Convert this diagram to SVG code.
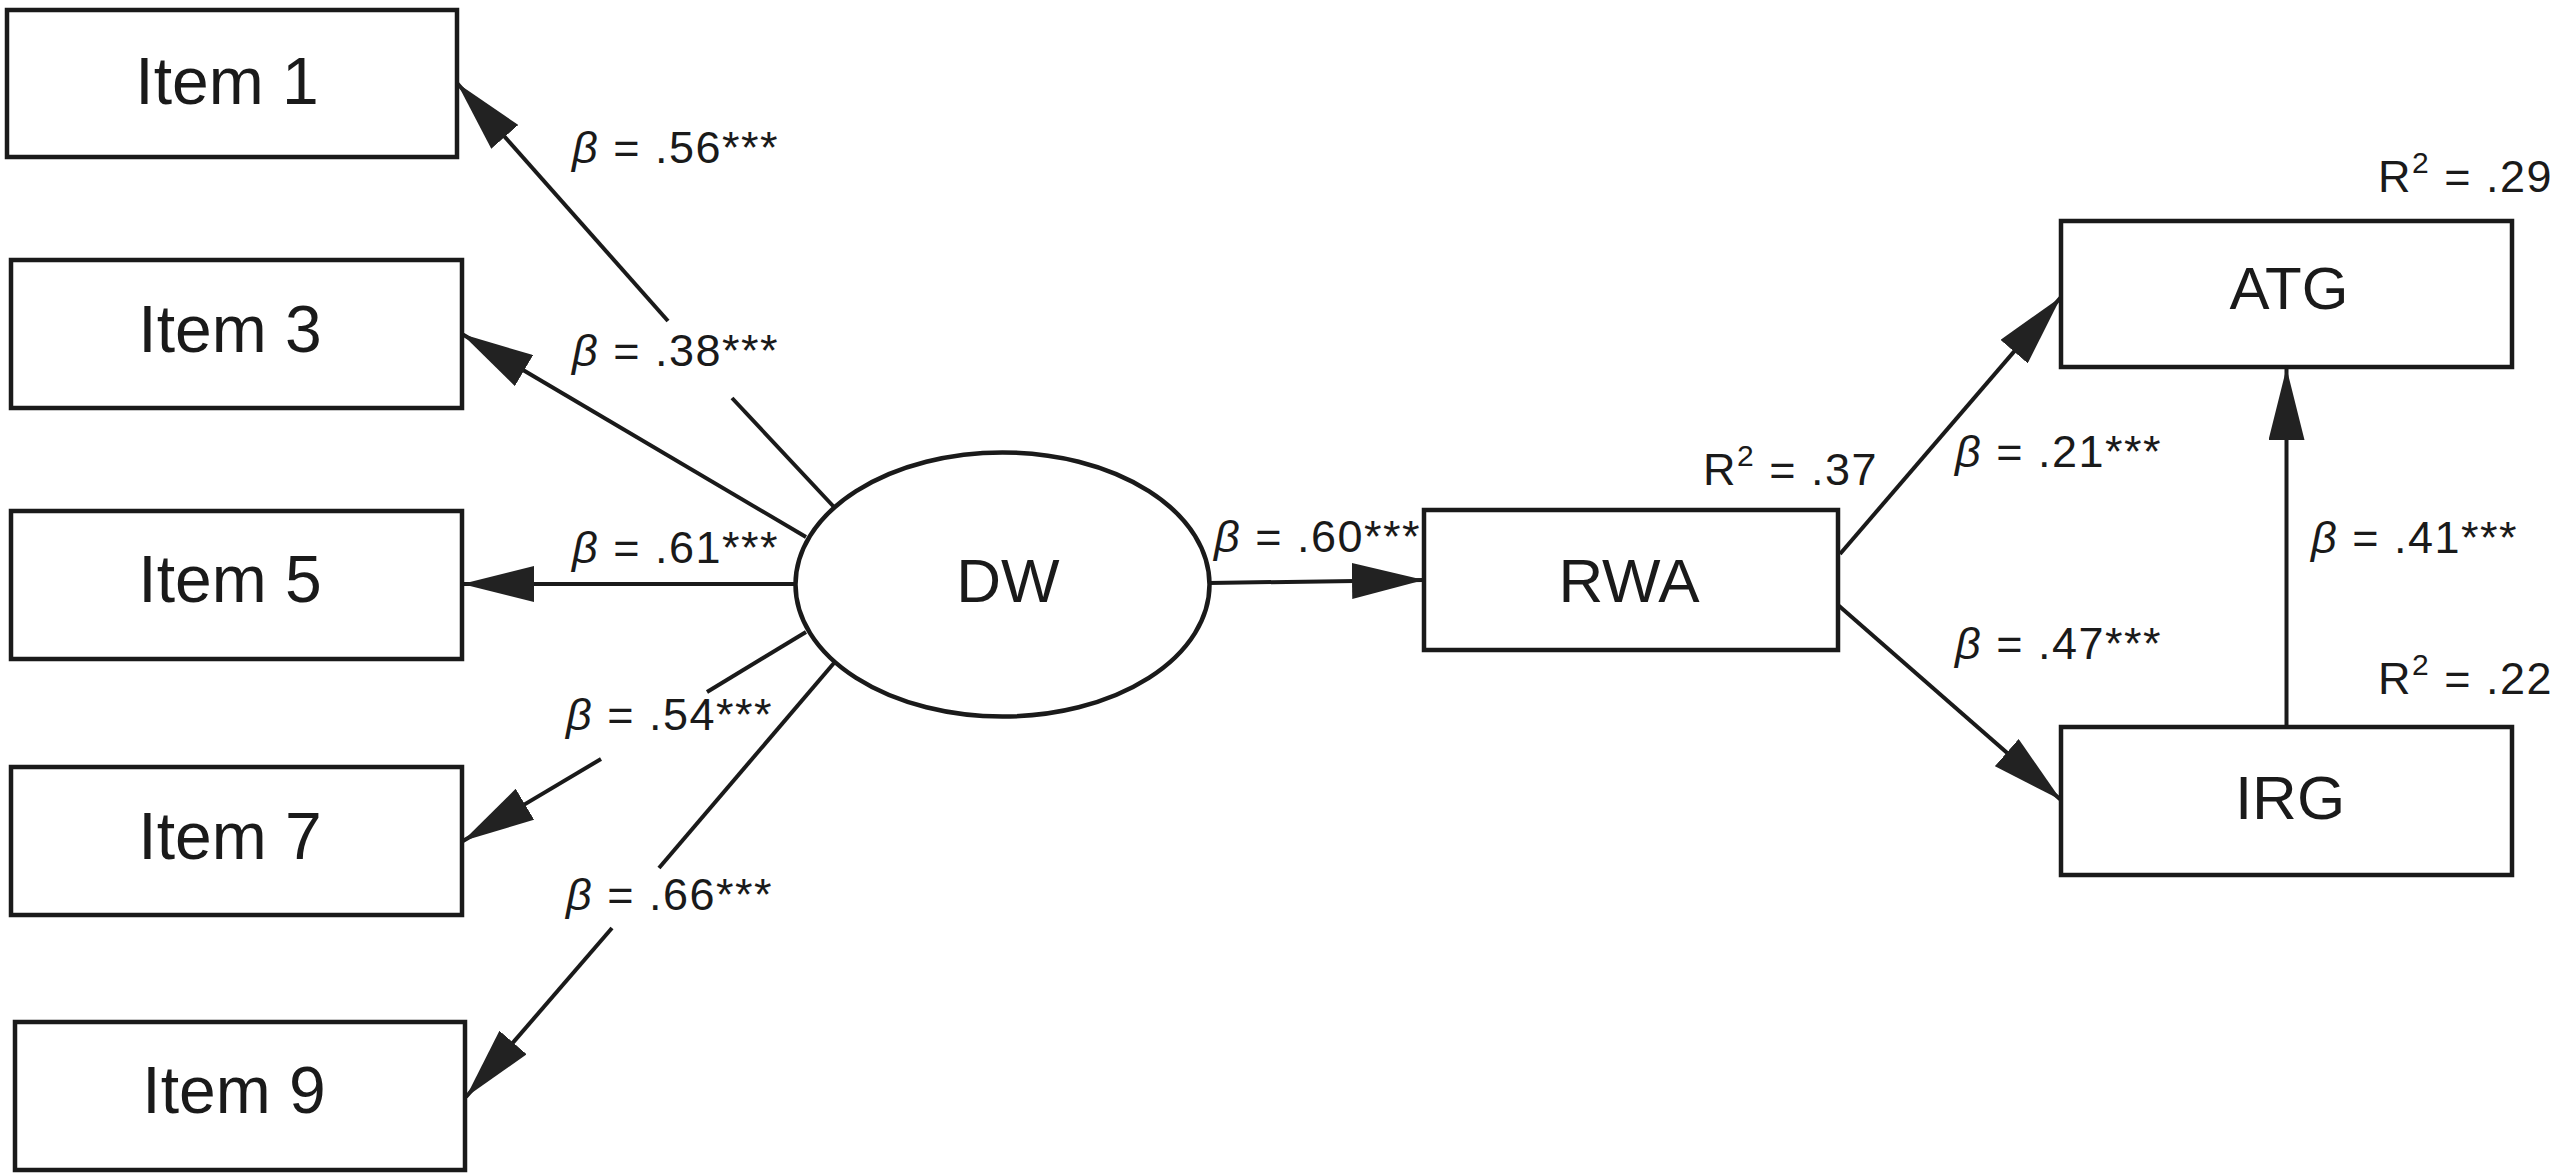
<svg xmlns="http://www.w3.org/2000/svg" width="2552" height="1173" viewBox="0 0 2552 1173">
<style>
.box{fill:#fff;stroke:#1a1a1a;stroke-width:4.5}
.ell{fill:#fff;stroke:#1a1a1a;stroke-width:4.5}
.node{font-family:'Liberation Sans',Arial,sans-serif;font-size:66px;fill:#1a1a1a;text-anchor:middle}
.lbl{font-family:'Liberation Sans',Arial,sans-serif;font-size:45px;letter-spacing:1.5px;fill:#1a1a1a}
.b{font-style:italic}
.edge{stroke:#1a1a1a;stroke-width:4;fill:none;marker-end:url(#ah)}
.seg{stroke:#1a1a1a;stroke-width:4;fill:none}
</style>
<defs>
<marker id="ah" markerUnits="userSpaceOnUse" viewBox="0 0 72 36" markerWidth="72" markerHeight="36" refX="72" refY="18" orient="auto">
<path d="M0,0 L72,18 L0,36 Z" fill="#222"/>
</marker>
</defs>
<rect x="0" y="0" width="2552" height="1173" fill="#fff"/>

<g id="connectors">
<line class="seg" x1="834" y1="507" x2="732" y2="398"/>
<line class="edge" x1="668" y1="321" x2="457" y2="83"/>
<line class="edge" x1="806" y1="537" x2="462" y2="334"/>
<line class="edge" x1="796" y1="584" x2="462" y2="584"/>
<line class="seg" x1="806" y1="632" x2="707" y2="692"/>
<line class="edge" x1="601" y1="759" x2="463" y2="841"/>
<line class="seg" x1="834" y1="663" x2="659" y2="868"/>
<line class="edge" x1="612" y1="928" x2="466" y2="1097"/>
<line class="edge" x1="1209" y1="583" x2="1424" y2="580"/>
<line class="edge" x1="1840" y1="554" x2="2061" y2="297"/>
<line class="edge" x1="1838" y1="605" x2="2061" y2="800"/>
<line class="edge" x1="2286.5" y1="727" x2="2286.5" y2="368"/>
</g>

<g id="labels">
<text class="lbl" x="572" y="163"><tspan class="b">β</tspan> = .56***</text>
<text class="lbl" x="572" y="366"><tspan class="b">β</tspan> = .38***</text>
<text class="lbl" x="572" y="563"><tspan class="b">β</tspan> = .61***</text>
<text class="lbl" x="566" y="730"><tspan class="b">β</tspan> = .54***</text>
<text class="lbl" x="566" y="910"><tspan class="b">β</tspan> = .66***</text>
<text class="lbl" x="1214" y="552"><tspan class="b">β</tspan> = .60***</text>
<text class="lbl" x="1955" y="467"><tspan class="b">β</tspan> = .21***</text>
<text class="lbl" x="1955" y="659"><tspan class="b">β</tspan> = .47***</text>
<text class="lbl" x="2311" y="553"><tspan class="b">β</tspan> = .41***</text>
<text class="lbl" x="1703" y="485">R<tspan font-size="30" dy="-19">2</tspan><tspan dy="19"> = .37</tspan></text>
<text class="lbl" x="2378" y="192">R<tspan font-size="30" dy="-19">2</tspan><tspan dy="19"> = .29</tspan></text>
<text class="lbl" x="2378" y="694">R<tspan font-size="30" dy="-19">2</tspan><tspan dy="19"> = .22</tspan></text>
</g>

<g id="item1"><rect class="box" x="7" y="10" width="450" height="147"/><text class="node" x="227" y="104">Item 1</text></g>
<g id="item3"><rect class="box" x="11" y="260" width="451" height="148"/><text class="node" x="230" y="352">Item 3</text></g>
<g id="item5"><rect class="box" x="11" y="511" width="451" height="148"/><text class="node" x="230" y="602">Item 5</text></g>
<g id="item7"><rect class="box" x="11" y="767" width="451" height="148"/><text class="node" x="230" y="859">Item 7</text></g>
<g id="item9"><rect class="box" x="15" y="1022" width="450" height="148"/><text class="node" x="234" y="1113">Item 9</text></g>
<g id="dw"><ellipse class="ell" cx="1002.5" cy="584.5" rx="207" ry="132"/><text class="node" x="1008" y="602" style="font-size:62px">DW</text></g>
<g id="rwa"><rect class="box" x="1424" y="510" width="414" height="140"/><text class="node" x="1629" y="602" style="font-size:62px">RWA</text></g>
<g id="atg"><rect class="box" x="2061" y="221" width="451" height="146"/><text class="node" x="2289" y="309" style="font-size:60px">ATG</text></g>
<g id="irg"><rect class="box" x="2061" y="727" width="451" height="148"/><text class="node" x="2290" y="819" style="font-size:62px">IRG</text></g>
</svg>
